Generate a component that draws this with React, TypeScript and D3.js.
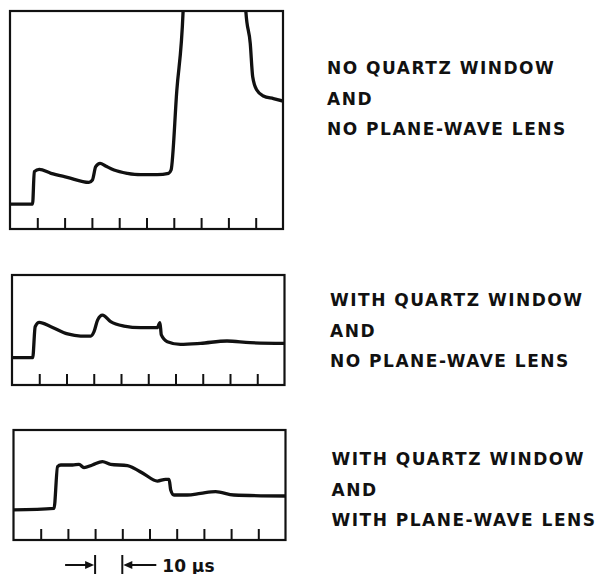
import React, { useEffect, useRef } from 'react'
import * as d3 from 'd3'

// time in µs, signal in arbitrary divisions
const traceNoWindow: [number, number][] = [
  [0, 2.29], [8.27, 2.29], [8.9, 5.26], [10.7, 5.47], [15, 5.11], [21, 4.74],
  [28.9, 4.28], [30.2, 4.5], [31.4, 5.72], [33, 6.02], [35, 5.78], [38.1, 5.41],
  [43, 5.11], [47.8, 4.98], [53.9, 4.98], [58.1, 5.11], [59, 5.41], [61.1, 12.7],
  [63.4, 19.94], [63.8, 22.5], [75, 25], [86.1, 22.5], [86.4, 19.94], [88, 17.03],
  [88.9, 13.97], [90.4, 12.75], [92.8, 12.2], [96.5, 11.96], [100, 11.74],
]

const traceQuartz: [number, number][] = [
  [0, 2.48], [7.6, 2.48], [8.5, 5.3], [10, 5.7], [14.3, 5.3], [20.4, 4.64],
  [25.2, 4.45], [28.9, 4.45], [30.1, 4.85], [31.4, 5.9], [33.2, 6.36], [36.2, 5.76],
  [41.1, 5.36], [47.2, 5.21], [53.3, 5.21], [54.3, 5.67], [54.8, 4.55], [57, 3.94],
  [61.8, 3.7], [69.2, 3.79], [78.9, 4.0], [87.4, 3.85], [100, 3.79],
]

const traceQuartzLens: [number, number][] = [
  [0, 2.73], [14.9, 2.88], [16.2, 6.67], [17.4, 6.82], [21.7, 6.82], [24.1, 6.88],
  [25.9, 6.58], [29, 6.82], [32.7, 7.12], [35.7, 6.88], [41.9, 6.76], [44.3, 6.52],
  [48, 6.0], [52.9, 5.36], [55.9, 5.52], [57.2, 5.52], [57.8, 4.55], [59, 4.09],
  [63.9, 4.09], [68.8, 4.24], [74.3, 4.39], [81, 4.09], [100, 4.0],
]

const tickTimes = [10, 20, 30, 40, 50, 60, 70, 80, 90]

const labelsNoWindow = ['NO QUARTZ WINDOW', 'AND', 'NO PLANE-WAVE LENS']
const labelsQuartz = ['WITH QUARTZ WINDOW', 'AND', 'NO PLANE-WAVE LENS']
const labelsQuartzLens = ['WITH QUARTZ WINDOW', 'AND', 'WITH PLANE-WAVE LENS']

const scaleLabel = '10 µs'

export default function App() {
  const svgRef = useRef<SVGSVGElement>(null)

  useEffect(() => {
    if (!svgRef.current) return
    const svg = d3.select(svgRef.current)
    svg.selectAll('*').remove()

    const ink = '#111'

    const panels = [
      { id: 'p1', data: traceNoWindow, labels: labelsNoWindow, yMax: 20, x0: 10, x1: 283, top: 11, bottom: 229, labelX: 327, labelY: 74 },
      { id: 'p2', data: traceQuartz, labels: labelsQuartz, yMax: 10, x0: 12, x1: 284.5, top: 275, bottom: 385, labelX: 330, labelY: 306 },
      { id: 'p3', data: traceQuartzLens, labels: labelsQuartzLens, yMax: 10, x0: 13.5, x1: 285.5, top: 430, bottom: 540, labelX: 331.5, labelY: 465 },
    ]

    const scales: Record<string, d3.ScaleLinear<number, number>> = {}

    panels.forEach(p => {
      const x = d3.scaleLinear().domain([0, 100]).range([p.x0, p.x1])
      const y = d3.scaleLinear().domain([0, p.yMax]).range([p.bottom, p.top])
      scales[p.id] = x

      svg.append('clipPath')
        .attr('id', `clip-${p.id}`)
        .append('rect')
        .attr('x', p.x0)
        .attr('y', p.top)
        .attr('width', p.x1 - p.x0)
        .attr('height', p.bottom - p.top)

      const line = d3.line<[number, number]>()
        .x(d => x(d[0]))
        .y(d => y(d[1]))
        .curve(d3.curveMonotoneX)

      svg.append('path')
        .datum(p.data)
        .attr('clip-path', `url(#clip-${p.id})`)
        .attr('fill', 'none')
        .attr('stroke', ink)
        .attr('stroke-width', 3.3)
        .attr('stroke-linejoin', 'round')
        .attr('d', line)

      // frame
      svg.append('rect')
        .attr('x', p.x0)
        .attr('y', p.top)
        .attr('width', p.x1 - p.x0)
        .attr('height', p.bottom - p.top)
        .attr('fill', 'none')
        .attr('stroke', ink)
        .attr('stroke-width', 2.2)

      // ticks pointing up from the bottom edge
      const axis = svg.append('g')
        .attr('transform', `translate(0,${p.bottom})`)
        .call(d3.axisTop(x).tickValues(tickTimes).tickSize(11).tickFormat(() => ''))
      axis.select('.domain').remove()
      axis.selectAll('line').attr('stroke', ink).attr('stroke-width', 2)

      p.labels.forEach((t, i) => {
        svg.append('text')
          .attr('x', p.labelX)
          .attr('y', p.labelY + i * 30.5)
          .attr('fill', ink)
          .style('font-family', 'DejaVu Sans, sans-serif')
          .style('font-weight', 'bold')
          .style('font-size', '17px')
          .style('letter-spacing', '1.5px')
          .text(t)
      })
    })

    // 10 µs scale bar under the last panel
    const x3 = scales.p3
    const a = x3(30)
    const b = x3(40)
    const yBar = 565
    const g = svg.append('g').attr('stroke', ink).attr('fill', ink)
    g.append('line').attr('x1', a).attr('x2', a).attr('y1', 555).attr('y2', 574).attr('stroke-width', 2)
    g.append('line').attr('x1', b).attr('x2', b).attr('y1', 555).attr('y2', 574).attr('stroke-width', 2)
    g.append('line').attr('x1', a - 30).attr('x2', a - 6).attr('y1', yBar).attr('y2', yBar).attr('stroke-width', 2)
    g.append('path').attr('stroke', 'none').attr('d', `M${a - 1},${yBar} L${a - 10},${yBar - 4} L${a - 10},${yBar + 4} Z`)
    g.append('line').attr('x1', b + 6).attr('x2', b + 34).attr('y1', yBar).attr('y2', yBar).attr('stroke-width', 2)
    g.append('path').attr('stroke', 'none').attr('d', `M${b + 1},${yBar} L${b + 10},${yBar - 4} L${b + 10},${yBar + 4} Z`)

    svg.append('text')
      .attr('x', b + 40)
      .attr('y', 571.5)
      .attr('fill', ink)
      .style('font-family', 'DejaVu Sans, sans-serif')
      .style('font-weight', 'bold')
      .style('font-size', '17px')
      .text(scaleLabel)
  }, [])

  return (
    <svg
      ref={svgRef}
      width={604}
      height={574}
      style={{ position: 'absolute', left: 0, top: 0, background: '#fff' }}
    />
  )
}
